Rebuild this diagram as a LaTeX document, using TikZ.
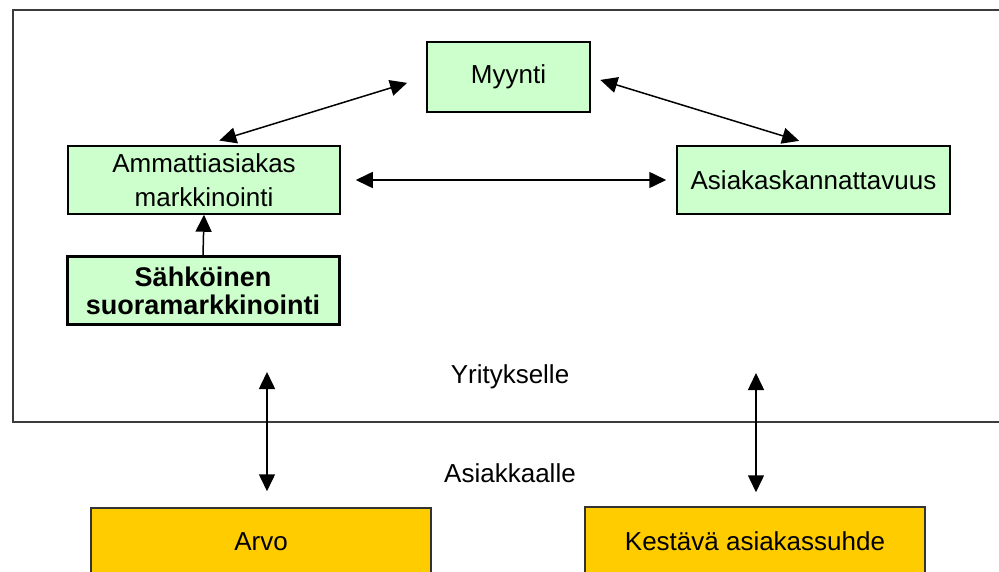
\documentclass[tikz,border=0pt]{standalone}
\usepackage{fontspec}
\setmainfont{Liberation Sans}
\usetikzlibrary{arrows.meta}

\definecolor{boxgreen}{HTML}{CCFFCC}
\definecolor{boxgold}{HTML}{FFCC00}
\definecolor{framegray}{HTML}{3C3C3C}

\begin{document}
\begin{tikzpicture}[
    x=1pt, y=-1pt,
    greenbox/.style={rectangle, draw=black, line width=1.5pt, fill=boxgreen,
        align=center, inner sep=0pt, font=\fontsize{26}{34}\selectfont},
    goldbox/.style={rectangle, draw=black!80, line width=1.5pt, fill=boxgold,
        align=center, inner sep=0pt, font=\fontsize{26}{34}\selectfont},
    label/.style={font=\fontsize{26}{34}\selectfont, inner sep=0pt},
    link/.style={line width=1.5pt, {Triangle[length=17pt,width=16pt]}-{Triangle[length=17pt,width=16pt]}},
    uplink/.style={line width=1.5pt, -{Triangle[length=17pt,width=16pt]}}
]
    \clip (0,0) rectangle (999,572);
    \draw[framegray, line width=2pt] (13,10) rectangle (1020,422);

    \node[greenbox, minimum width=163pt, minimum height=70pt] (myynti) at (508.5,77) {Myynti};
    \node[greenbox, minimum width=272pt, minimum height=68pt] (ammatti) at (204,180) {Ammattiasiakas\\markkinointi};
    \node[greenbox, minimum width=273pt, minimum height=68pt] (kannatt) at (813.5,180) {Asiakaskannattavuus};
    \node[greenbox, minimum width=272pt, minimum height=67pt, line width=3pt,
        font=\fontsize{27}{28}\selectfont\bfseries] (sahko) at (203,290.5) {Sähköinen\\suoramarkkinointi};
    \node[goldbox, minimum width=340pt, minimum height=68pt] (arvo) at (261,542) {Arvo};
    \node[goldbox, minimum width=340pt, minimum height=68pt] (kesto) at (755,541) {Kestävä asiakassuhde};

    \node[label] (yritys) at (510,377) {Yritykselle};
    \node[label] (asiakas) at (510,473) {Asiakkaalle};

    \coordinate (arvoup) at (267,372);
    \coordinate (kestoup) at (756,373);

    \draw[link, shorten <=16pt, shorten >=20pt] (ammatti.north) -- (myynti.west);
    \draw[link, shorten <=10pt, shorten >=15pt] (myynti.east) -- (kannatt.north);
    \draw[link, shorten <=15pt, shorten >=10pt] (ammatti.east) -- (kannatt.west);
    \draw[uplink] (sahko.north) -- (ammatti.south);
    \draw[link, shorten >=16pt] (arvoup) -- (arvoup |- arvo.north);
    \draw[link, shorten >=14pt] (kestoup) -- (kestoup |- kesto.north);
\end{tikzpicture}
\end{document}
